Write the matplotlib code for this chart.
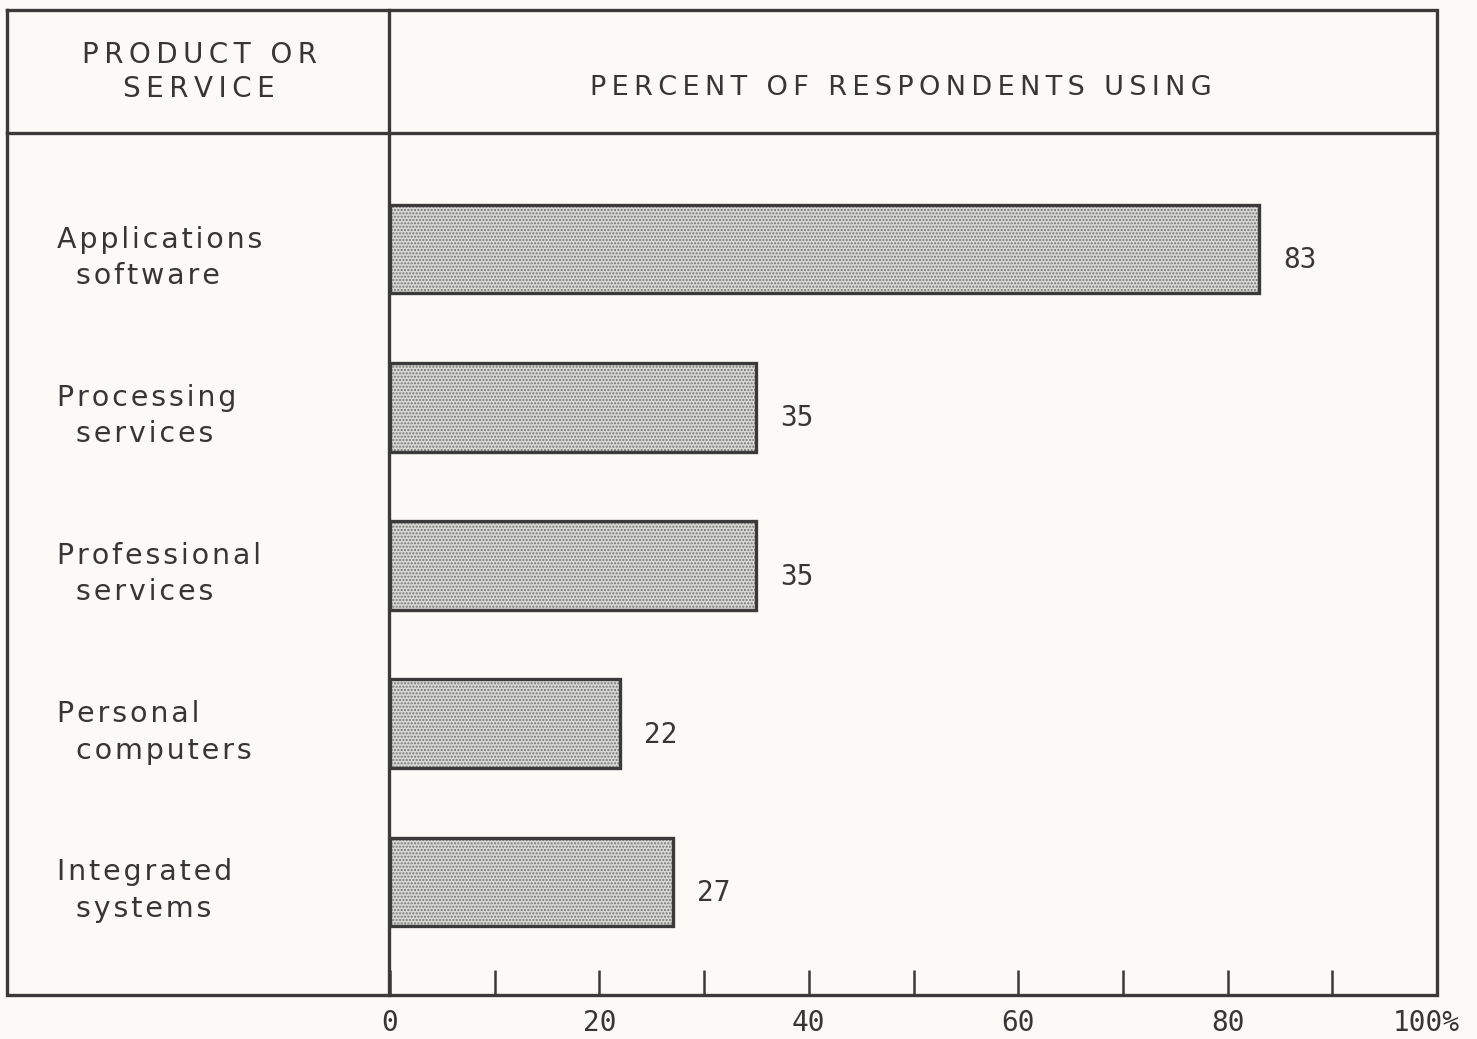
import matplotlib
matplotlib.use("Agg")
import matplotlib.pyplot as plt
from matplotlib.transforms import blended_transform_factory, offset_copy

# Survey results: share of respondents using each product or service
categories = [
    ("Applications", "software"),
    ("Processing", "services"),
    ("Professional", "services"),
    ("Personal", "computers"),
    ("Integrated", "systems"),
]
percents = [83, 35, 35, 22, 27]
major_ticks = [0, 20, 40, 60, 80, 100]
major_labels = ["0", "20", "40", "60", "80", "100%"]
minor_ticks = [10, 30, 50, 70, 90]

W, H = 1477, 1039
BG = "#fbfaf6"
INK = "#3a3a3a"
TXT = "#363636"
THIN = "\u2009"
HAIR = "\u200a"


def tracked(s, gap):
    """Spread the letters of a string apart with narrow spaces."""
    return gap.join(s)


fig = plt.figure(figsize=(W / 100, H / 100), dpi=100, facecolor=BG)

# Frame layer in pixel coordinates
frame = fig.add_axes([0, 0, 1, 1])
frame.set_xlim(0, W)
frame.set_ylim(H, 0)
frame.axis("off")
frame.patch.set_alpha(0)

left, right, top, head, bottom, divider = 7, 1437, 10, 133, 995, 389
lw = 2.4
frame.plot([left, right, right, left, left], [top, top, bottom, bottom, top],
           color=INK, lw=lw, solid_joinstyle="miter")
frame.plot([left, right], [head, head], color=INK, lw=lw)
frame.plot([divider, divider], [top, bottom], color=INK, lw=lw)

frame.text((left + divider) / 2 + 1, 72,
           tracked("PRODUCT OR", THIN) + "\n" + tracked("SERVICE", THIN),
           ha="center", va="center", fontsize=20, color=TXT, linespacing=1.25,
           fontfamily="DejaVu Sans")
frame.text((divider + right) / 2 - 12, 88, tracked("PERCENT OF RESPONDENTS USING", THIN),
           ha="center", va="center", fontsize=19.5, color=TXT, fontfamily="DejaVu Sans")

# Data axes: x from 0 to 100 percent
ax = fig.add_axes([390 / W, (H - bottom) / H, (right - 390) / W, (bottom - head) / H])
ax.patch.set_alpha(0)
ypos = list(range(len(percents)))
# stippled fill, then the outline on top
ax.barh(ypos, percents, height=0.56, facecolor="#d8d8d4", edgecolor="#737371",
        linewidth=0, hatch=".....", zorder=2)
ax.barh(ypos, percents, height=0.56, facecolor="none", edgecolor=INK,
        linewidth=2.4, zorder=3)
for y, v in zip(ypos, percents):
    ax.text(v + 2.3, y + 0.07, f"{v}", ha="left", va="center", fontsize=20,
            color=TXT, fontfamily="DejaVu Sans Mono")

ax.set_xlim(0, 100)
ax.set_ylim(4.715, -0.734)
for s in ax.spines.values():
    s.set_visible(False)
ax.set_yticks([])
ax.set_xticks(major_ticks)
ax.set_xticklabels(major_labels, fontsize=20, color=TXT, fontfamily="DejaVu Sans Mono")
ax.set_xticks(minor_ticks, minor=True)
ax.tick_params(axis="x", which="both", direction="in", length=18, width=1.8,
               color=INK, pad=10)
# the percent sign hangs past the last tick; nudge that label left
last = ax.get_xticklabels()[-1]
last.set_transform(offset_copy(last.get_transform(), fig=fig, x=-11, units="dots"))

# Category labels, two lines each, second line indented
tr = blended_transform_factory(fig.transFigure, ax.transData)
for y, (l1, l2) in zip(ypos, categories):
    ax.text(57 / W, y - 0.06, tracked(l1, HAIR), transform=tr, ha="left", va="center",
            fontsize=20.5, color=TXT, fontfamily="DejaVu Sans")
    ax.text(76 / W, y + 0.17, tracked(l2, HAIR), transform=tr, ha="left", va="center",
            fontsize=20.5, color=TXT, fontfamily="DejaVu Sans")

fig.savefig("out.png", dpi=100, facecolor=BG)
